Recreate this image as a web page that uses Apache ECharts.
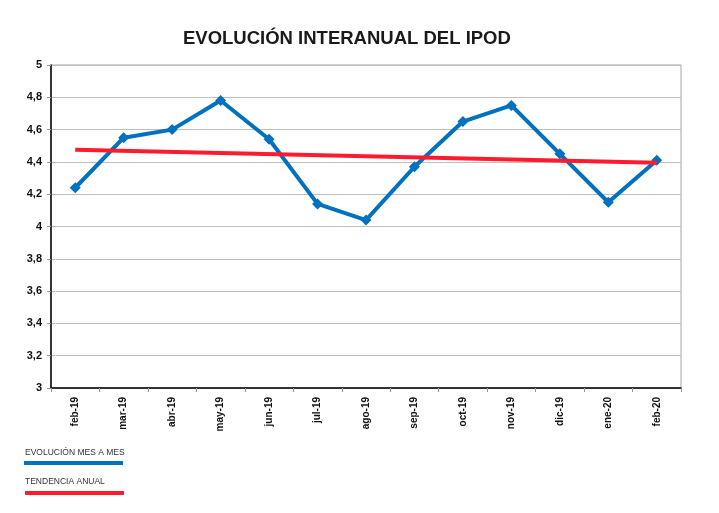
<!DOCTYPE html>
<html>
<head>
<meta charset="utf-8">
<script src="https://cdn.jsdelivr.net/npm/echarts@6/dist/echarts.min.js"></script>
<style>
  html, body { margin: 0; padding: 0; background: #fff; }
  #chart { width: 719px; height: 513px; }
</style>
</head>
<body>
<div id="chart"></div>
<script>
// datos
const months = ['feb-19', 'mar-19', 'abr-19', 'may-19', 'jun-19', 'jul-19', 'ago-19',
  'sep-19', 'oct-19', 'nov-19', 'dic-19', 'ene-20', 'feb-20'];
const monthly = [4.24, 4.55, 4.60, 4.78, 4.54, 4.14, 4.04, 4.37, 4.65, 4.75, 4.45, 4.15, 4.41];
// tendencia: solo extremos, la línea recta los une
const trend = [4.475, null, null, null, null, null, null, null, null, null, null, null, 4.395];

const FONT = '"Liberation Sans", Arial, sans-serif';
const BLUE = '#0070c0';
const RED = '#ff1a2e';

const chart = echarts.init(document.getElementById('chart'));
chart.setOption({
  animation: false,
  title: {
    text: 'EVOLUCIÓN INTERANUAL DEL IPOD',
    left: 178,
    top: 24,
    textStyle: { fontFamily: FONT, fontSize: 18.5, fontWeight: 'bold', color: '#1a1a1a' }
  },
  grid: {
    left: 51,
    right: 38,
    top: 65,
    bottom: 125,
    show: true,
    borderColor: '#a6a6a6',
    borderWidth: 1
  },
  xAxis: {
    type: 'category',
    data: months,
    boundaryGap: true,
    axisLine: { lineStyle: { color: '#000', width: 1.5 } },
    axisTick: { show: true, length: 4, lineStyle: { color: '#999' } },
    axisLabel: {
      rotate: 90,
      interval: 0,
      margin: 9,
      fontFamily: FONT,
      fontSize: 10,
      fontWeight: 'bold',
      color: '#111'
    }
  },
  yAxis: {
    type: 'value',
    min: 3,
    max: 5,
    interval: 0.2,
    axisLine: { show: true, lineStyle: { color: '#000', width: 1.5 } },
    axisTick: { show: true, length: 4, lineStyle: { color: '#999' } },
    splitLine: { lineStyle: { color: '#bfbfbf', width: 1 } },
    axisLabel: {
      margin: 9,
      fontFamily: FONT,
      fontSize: 11,
      fontWeight: 'bold',
      color: '#111',
      formatter: v => String(Math.round(v * 10) / 10).replace('.', ',')
    }
  },
  series: [
    {
      name: 'EVOLUCIÓN MES A MES',
      type: 'line',
      data: monthly,
      symbol: 'diamond',
      symbolSize: 11,
      lineStyle: { color: BLUE, width: 4 },
      itemStyle: { color: BLUE },
      z: 2
    },
    {
      name: 'TENDENCIA ANUAL',
      type: 'line',
      data: trend,
      connectNulls: true,
      showSymbol: false,
      symbol: 'none',
      lineStyle: { color: RED, width: 4 },
      itemStyle: { color: RED },
      z: 3
    }
  ],
  graphic: [
    {
      type: 'text', left: 25, top: 448,
      style: { text: 'EVOLUCIÓN MES A MES', font: '8.5px ' + FONT, fill: '#333' }
    },
    {
      type: 'rect', left: 24, top: 461,
      shape: { width: 99, height: 4 },
      style: { fill: BLUE }
    },
    {
      type: 'text', left: 25, top: 477,
      style: { text: 'TENDENCIA ANUAL', font: '8.5px ' + FONT, fill: '#333' }
    },
    {
      type: 'rect', left: 25, top: 491,
      shape: { width: 99, height: 4 },
      style: { fill: RED }
    }
  ]
});
</script>
</body>
</html>
